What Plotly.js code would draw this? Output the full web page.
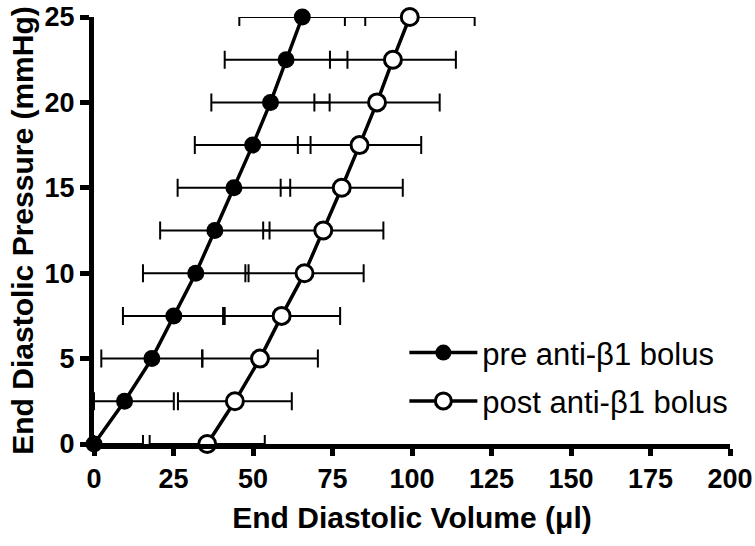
<!DOCTYPE html>
<html>
<head>
<meta charset="utf-8">
<script src="https://cdn.plot.ly/plotly-3.0.1.min.js"></script>
<style>html,body{margin:0;padding:0;background:#fff;}#chart{width:755px;height:546px;}</style>
</head>
<body>
<div id="chart"></div>
<script>
// Pressure levels (mmHg)
const pressure = [0, 2.5, 5, 7.5, 10, 12.5, 15, 17.5, 20, 22.5, 25];
// End diastolic volume (µl), pre anti-β1 bolus
const preVolume = [0, 9.6, 18.2, 25.1, 32.0, 38.0, 44.0, 49.9, 55.5, 60.4, 65.5];
const preError  = [15.4, 15.5, 15.9, 16.0, 16.6, 17.2, 17.7, 18.2, 18.6, 19.3, 19.8];
// End diastolic volume (µl), post anti-β1 bolus
const postVolume = [35.6, 44.3, 52.2, 59.0, 66.2, 72.1, 77.9, 83.5, 89.0, 94.0, 99.3];
const postError  = [18.1, 17.9, 18.2, 18.4, 18.6, 18.9, 19.2, 19.4, 19.7, 19.8, 20.4];
const seriesNames = ['pre anti-β1 bolus', 'post anti-β1 bolus'];
const xTicks = [0, 25, 50, 75, 100, 125, 150, 175, 200];
const yTicks = [0, 5, 10, 15, 20, 25];

// error bars are cut at the y axis (x = 0), as in the original figure
const clipMinus = (vals, errs) => vals.map((v, i) => Math.min(errs[i], v));

const errStyle = {type: 'data', symmetric: false, color: '#000', thickness: 2, width: 9};

const traces = [
  {
    x: preVolume, y: pressure, name: seriesNames[0], type: 'scatter', mode: 'lines+markers',
    line: {color: '#000', width: 3.5},
    marker: {symbol: 'circle', size: 17, color: '#000', line: {color: '#000', width: 0}},
    error_x: Object.assign({}, errStyle, {array: preError, arrayminus: clipMinus(preVolume, preError)}),
    cliponaxis: false, legendgroup: 'a'
  },
  {
    x: postVolume, y: pressure, name: seriesNames[1], type: 'scatter', mode: 'lines+markers',
    line: {color: '#000', width: 3.5},
    marker: {symbol: 'circle', size: 17, color: '#fff', line: {color: '#000', width: 3}},
    error_x: Object.assign({}, errStyle, {array: postError, arrayminus: clipMinus(postVolume, postError)}),
    cliponaxis: false, legendgroup: 'b'
  }
];

const FAM = 'Liberation Sans, Arial, sans-serif';
const tickFont = {family: FAM, size: 27, color: '#000', weight: 'bold'};
const titleFont = {family: FAM, size: 30, color: '#000', weight: 'bold'};

const layout = {
  width: 755, height: 546,
  margin: {l: 94, r: 25, t: 17, b: 102},
  paper_bgcolor: '#fff', plot_bgcolor: '#fff',
  showlegend: true,
  legend: {
    x: 0.488, xanchor: 'left', y: 0.157, yanchor: 'middle',
    font: {family: FAM, size: 31, color: '#000'},
    traceorder: 'grouped', tracegroupgap: 5, bgcolor: 'rgba(0,0,0,0)',
    itemwidth: 68
  },
  xaxis: {
    range: [0, 200], tickvals: xTicks, ticktext: xTicks.map(String),
    showgrid: false, zeroline: false, showline: true, linecolor: '#000', linewidth: 5,
    ticks: 'outside', ticklen: 7, tickwidth: 5, tickcolor: '#000',
    tickfont: tickFont,
    title: {text: 'End Diastolic Volume (μl)', font: titleFont, standoff: 15},
    automargin: 'bottom'
  },
  yaxis: {
    range: [0, 25], tickvals: yTicks, ticktext: yTicks.map(String),
    showgrid: false, zeroline: false, showline: true, linecolor: '#000', linewidth: 5,
    ticks: 'outside', ticklen: 9, tickwidth: 5, tickcolor: '#000',
    tickfont: tickFont,
    title: {text: 'End Diastolic Pressure (mmHg)', font: titleFont, standoff: 4},
    automargin: false
  }
};

Plotly.newPlot('chart', traces, layout, {displayModeBar: false, staticPlot: true});
</script>
</body>
</html>
